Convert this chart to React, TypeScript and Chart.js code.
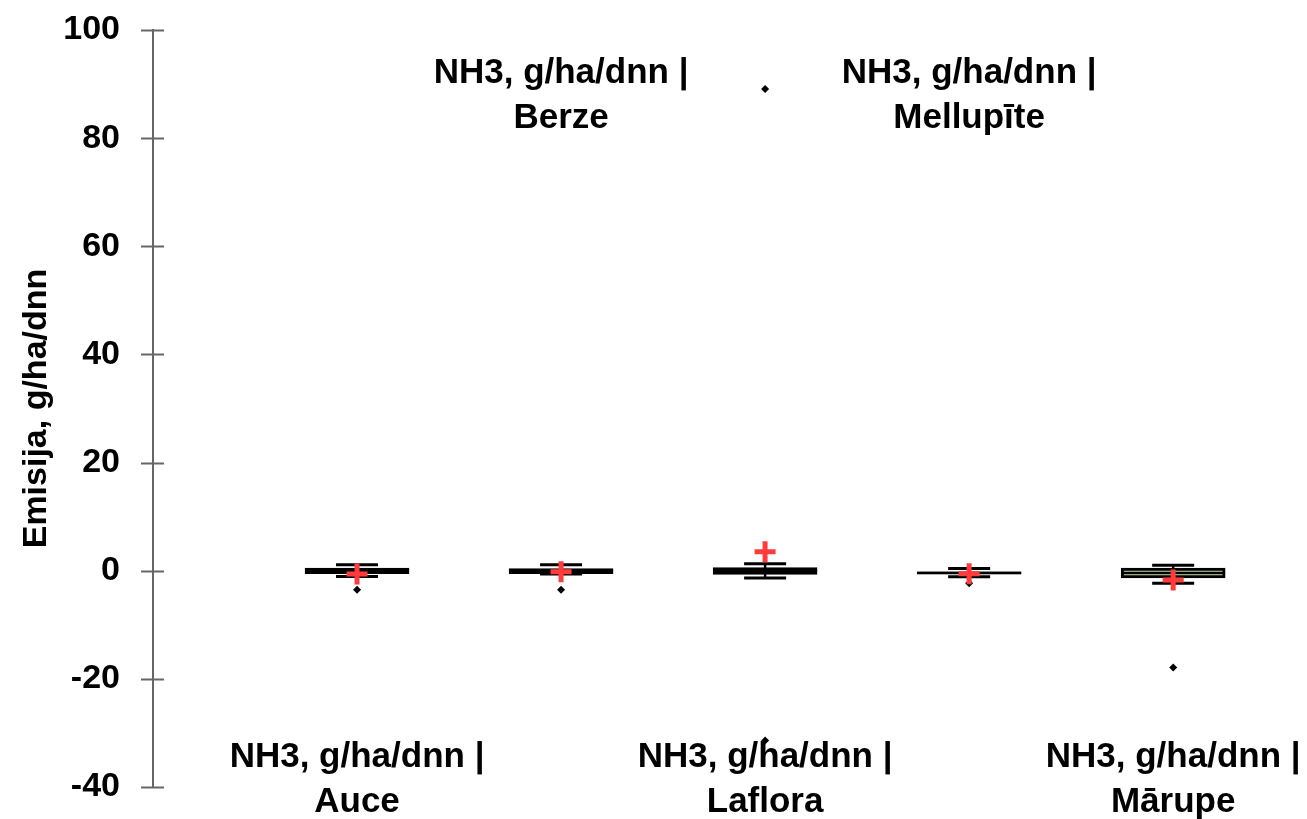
import React, { useEffect, useRef } from "react";
import { Chart, registerables } from "chart.js";

Chart.register(...registerables);

const categories = ["Auce", "Berze", "Laflora", "Mellupīte", "Mārupe"];
const seriesLabel = "NH3, g/ha/dnn |";
const whiskerMax = [1.1, 1.1, 1.3, 0.4, 1.0];
const q3 = [0.5, 0.4, 0.6, -0.2, 0.5];
const median = [0.0, 0.0, 0.0, -0.4, -0.43];
const q1 = [-0.55, -0.55, -0.7, -0.6, -1.35];
const whiskerMin = [-1.05, -0.6, -1.35, -1.1, -2.3];
const means = [-0.6, -0.2, 3.5, -0.55, -1.7];
const outlierCat = [1, 2, 3, 3, 4, 5];
const outlierVal = [-3.5, -3.5, 89.1, -31.4, -2.3, -17.9];
const yTicks = [-40, -20, 0, 20, 40, 60, 80, 100];

const FONT = "'Liberation Sans', Arial, sans-serif";

const boxPlugin = {
  id: "boxExtras",
  beforeDatasetsDraw(chart: any) {
    const { ctx } = chart;
    const xs = chart.scales.x;
    const ys = chart.scales.y;
    ctx.save();
    ctx.strokeStyle = "#000";
    categories.forEach((_, i) => {
      const x = xs.getPixelForValue(i + 1);
      const yMax = ys.getPixelForValue(whiskerMax[i]);
      const yMin = ys.getPixelForValue(whiskerMin[i]);
      ctx.lineWidth = 2.5;
      ctx.beginPath();
      ctx.moveTo(x, yMax);
      ctx.lineTo(x, yMin);
      ctx.stroke();
      ctx.lineWidth = 3;
      ctx.beginPath();
      ctx.moveTo(x - 21, yMax);
      ctx.lineTo(x + 21, yMax);
      ctx.moveTo(x - 21, yMin);
      ctx.lineTo(x + 21, yMin);
      ctx.stroke();
    });
    ctx.restore();
  },
  afterDatasetDraw(chart: any, args: any) {
    if (args.index !== 0) return;
    const { ctx } = chart;
    const xs = chart.scales.x;
    const ys = chart.scales.y;
    ctx.save();
    ctx.strokeStyle = "#000";
    ctx.lineWidth = 2.5;
    categories.forEach((_, i) => {
      const x = xs.getPixelForValue(i + 1);
      const y = ys.getPixelForValue(median[i]);
      ctx.beginPath();
      ctx.moveTo(x - 52, y);
      ctx.lineTo(x + 52, y);
      ctx.stroke();
    });
    ctx.restore();
  },
  afterDraw(chart: any) {
    const { ctx, chartArea } = chart;
    const xs = chart.scales.x;
    const ys = chart.scales.y;
    ctx.save();
    ctx.strokeStyle = "#666";
    ctx.lineWidth = 2;
    yTicks.forEach((v) => {
      const y = Math.round(ys.getPixelForValue(v)) + 0.5;
      ctx.beginPath();
      ctx.moveTo(chartArea.left - 12, y);
      ctx.lineTo(chartArea.left + 11, y);
      ctx.stroke();
    });
    ctx.fillStyle = "#000";
    ctx.font = `bold 35px ${FONT}`;
    ctx.textAlign = "center";
    ctx.textBaseline = "middle";
    categories.forEach((c, i) => {
      const x = xs.getPixelForValue(i + 1);
      if (i % 2 === 0) {
        ctx.fillText(seriesLabel, x, 757);
        ctx.fillText(c, x, 802);
      } else {
        ctx.fillText(seriesLabel, x, 73);
        ctx.fillText(c, x, 118);
      }
    });
    ctx.restore();
  },
};

export default function App() {
  const ref = useRef<HTMLCanvasElement>(null);
  useEffect(() => {
    if (!ref.current) return;
    const chart = new Chart(ref.current, {
      type: "bar",
      data: {
        datasets: [
          {
            type: "bar",
            order: 3,
            data: categories.map((_, i) => ({ x: i + 1, y: [q1[i], q3[i]] })) as any,
            backgroundColor: "#c6e0a4",
            borderColor: "#000",
            borderWidth: 3,
            borderSkipped: false,
            barThickness: 104,
          } as any,
          {
            type: "scatter",
            order: 1,
            data: categories.map((_, i) => ({ x: i + 1, y: means[i] })),
            pointStyle: "cross",
            pointRadius: 10.5,
            borderWidth: 5,
            borderColor: "#ff3b3b",
            backgroundColor: "#ff3b3b",
          } as any,
          {
            type: "scatter",
            order: 2,
            data: outlierVal.map((v, i) => ({ x: outlierCat[i], y: v })),
            pointStyle: "rectRot",
            pointRadius: 4,
            borderWidth: 0,
            backgroundColor: "#000",
            borderColor: "#000",
          } as any,
        ],
      },
      options: {
        responsive: false,
        animation: false,
        layout: { padding: { top: 30, bottom: 32, right: 10, left: 0 } },
        plugins: { legend: { display: false }, tooltip: { enabled: false } },
        scales: {
          x: { type: "linear", min: 0, max: 5.58, display: false, offset: false },
          y: {
            type: "linear",
            min: -40,
            max: 100,
            afterFit: (s: any) => {
              s.width = 153;
              s.paddingTop = 0;
              s.paddingBottom = 0;
            },
            afterBuildTicks: (s: any) => {
              s.ticks = yTicks.map((v) => ({ value: v }));
            },
            grid: { drawOnChartArea: false, drawTicks: false },
            border: { display: true, color: "#666", width: 2 },
            ticks: {
              padding: 33,
              color: "#000",
              font: { family: FONT, size: 34, weight: "bold" },
            },
            title: {
              display: true,
              text: "Emisija, g/ha/dnn",
              color: "#000",
              font: { family: FONT, size: 34, weight: "bold" },
              padding: { top: 16, bottom: 0 },
            },
          },
        },
      } as any,
      plugins: [boxPlugin],
    });
    return () => chart.destroy();
  }, []);
  return (
    <div style={{ position: "fixed", left: 0, top: 0, width: 1307, height: 819, background: "#fff" }}>
      <canvas ref={ref} width={1307} height={819} />
    </div>
  );
}
